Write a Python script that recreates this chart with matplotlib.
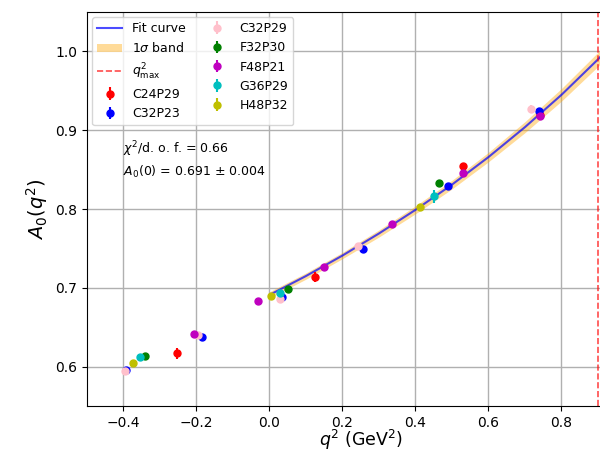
import matplotlib
matplotlib.use("Agg")
import matplotlib.pyplot as plt
import numpy as np

# fit curve
fit_q2 = [0.0, 0.1, 0.2, 0.3, 0.4, 0.5, 0.6, 0.7, 0.8, 0.9, 0.95]
fit_A0 = [0.691, 0.715, 0.741, 0.769, 0.799, 0.831, 0.866, 0.904, 0.945, 0.990, 1.014]
fit_err = [0.004, 0.004, 0.004, 0.0045, 0.005, 0.0055, 0.006, 0.007, 0.008, 0.009, 0.010]
q2_max = 0.9

# lattice points per ensemble: q2, A0, error
C24P29_q2 = [-0.253, 0.125, 0.530, 0.740]
C24P29_A0 = [0.617, 0.714, 0.854, 0.919]
C24P29_err = [0.007, 0.006, 0.005, 0.006]

C32P23_q2 = [-0.393, -0.186, 0.035, 0.256, 0.490, 0.738]
C32P23_A0 = [0.596, 0.637, 0.688, 0.7495, 0.829, 0.924]
C32P23_err = [0.003, 0.003, 0.003, 0.003, 0.003, 0.004]

C32P29_q2 = [-0.397, -0.196, 0.030, 0.242, 0.717]
C32P29_A0 = [0.595, 0.640, 0.686, 0.753, 0.927]
C32P29_err = [0.003, 0.003, 0.003, 0.003, 0.005]

F32P30_q2 = [-0.341, 0.052, 0.464]
F32P30_A0 = [0.614, 0.698, 0.833]
F32P30_err = [0.003, 0.003, 0.004]

F48P21_q2 = [-0.207, -0.032, 0.148, 0.335, 0.529, 0.740]
F48P21_A0 = [0.6415, 0.683, 0.727, 0.7816, 0.846, 0.918]
F48P21_err = [0.003, 0.002, 0.003, 0.003, 0.004, 0.005]

G36P29_q2 = [-0.356, 0.029, 0.452]
G36P29_A0 = [0.612, 0.6935, 0.816]
G36P29_err = [0.003, 0.003, 0.008]

H48P32_q2 = [-0.374, 0.003, 0.411]
H48P32_A0 = [0.604, 0.690, 0.802]
H48P32_err = [0.003, 0.003, 0.003]

ensembles = [
    ("C24P29", C24P29_q2, C24P29_A0, C24P29_err, "red"),
    ("C32P23", C32P23_q2, C32P23_A0, C32P23_err, "blue"),
    ("C32P29", C32P29_q2, C32P29_A0, C32P29_err, "pink"),
    ("F32P30", F32P30_q2, F32P30_A0, F32P30_err, "green"),
    ("F48P21", F48P21_q2, F48P21_A0, F48P21_err, "m"),
    ("G36P29", G36P29_q2, G36P29_A0, G36P29_err, "c"),
    ("H48P32", H48P32_q2, H48P32_A0, H48P32_err, "y"),
]

fig = plt.figure(figsize=(6, 4.51), dpi=100)
ax = fig.add_axes([0.145, 0.0998, 0.9125, 0.8734])

fq = np.array(fit_q2)
fa = np.array(fit_A0)
fe = np.array(fit_err)
ax.plot(fq, fa, color="blue", lw=1.5, alpha=0.7, label="Fit curve")
ax.fill_between(fq, fa - fe, fa + fe, color="orange", alpha=0.4, lw=0, label=r"1$\sigma$ band")
ax.axvline(q2_max, color="red", ls="--", lw=1.2, alpha=0.7, label=r"$q^2_{\rm max}$")

for name, q2, a0, err, col in ensembles:
    ax.errorbar(q2, a0, yerr=err, fmt="o", color=col, ms=5, elinewidth=1.5, label=name, zorder=3)

ax.text(-0.4, 0.8756, r"$\chi^2$/d. o. f. = 0.66", fontsize=9, va="center")
ax.text(-0.4, 0.8476, r"$A_0(0)$ = 0.691 $\pm$ 0.004", fontsize=9, va="center")

ax.set_xlim(-0.5, 1.0)
ax.set_ylim(0.55, 1.05)
ax.set_xticks([-0.4, -0.2, 0.0, 0.2, 0.4, 0.6, 0.8])
ax.set_yticks([0.6, 0.7, 0.8, 0.9, 1.0])
ax.tick_params(labelsize=10)
ax.grid(True, color="#b0b0b0", lw=1)
ax.set_axisbelow(True)
ax.set_xlabel(r"$q^2$ (GeV$^2$)", fontsize=12.5, labelpad=-1)
ax.set_ylabel(r"$A_0(q^2)$", fontsize=14)

ax.legend(loc="upper left", ncol=2, fontsize=9, framealpha=0.8,
          handlelength=2.0, columnspacing=1.5, borderaxespad=0.4)

fig.savefig("out.png", dpi=100)
